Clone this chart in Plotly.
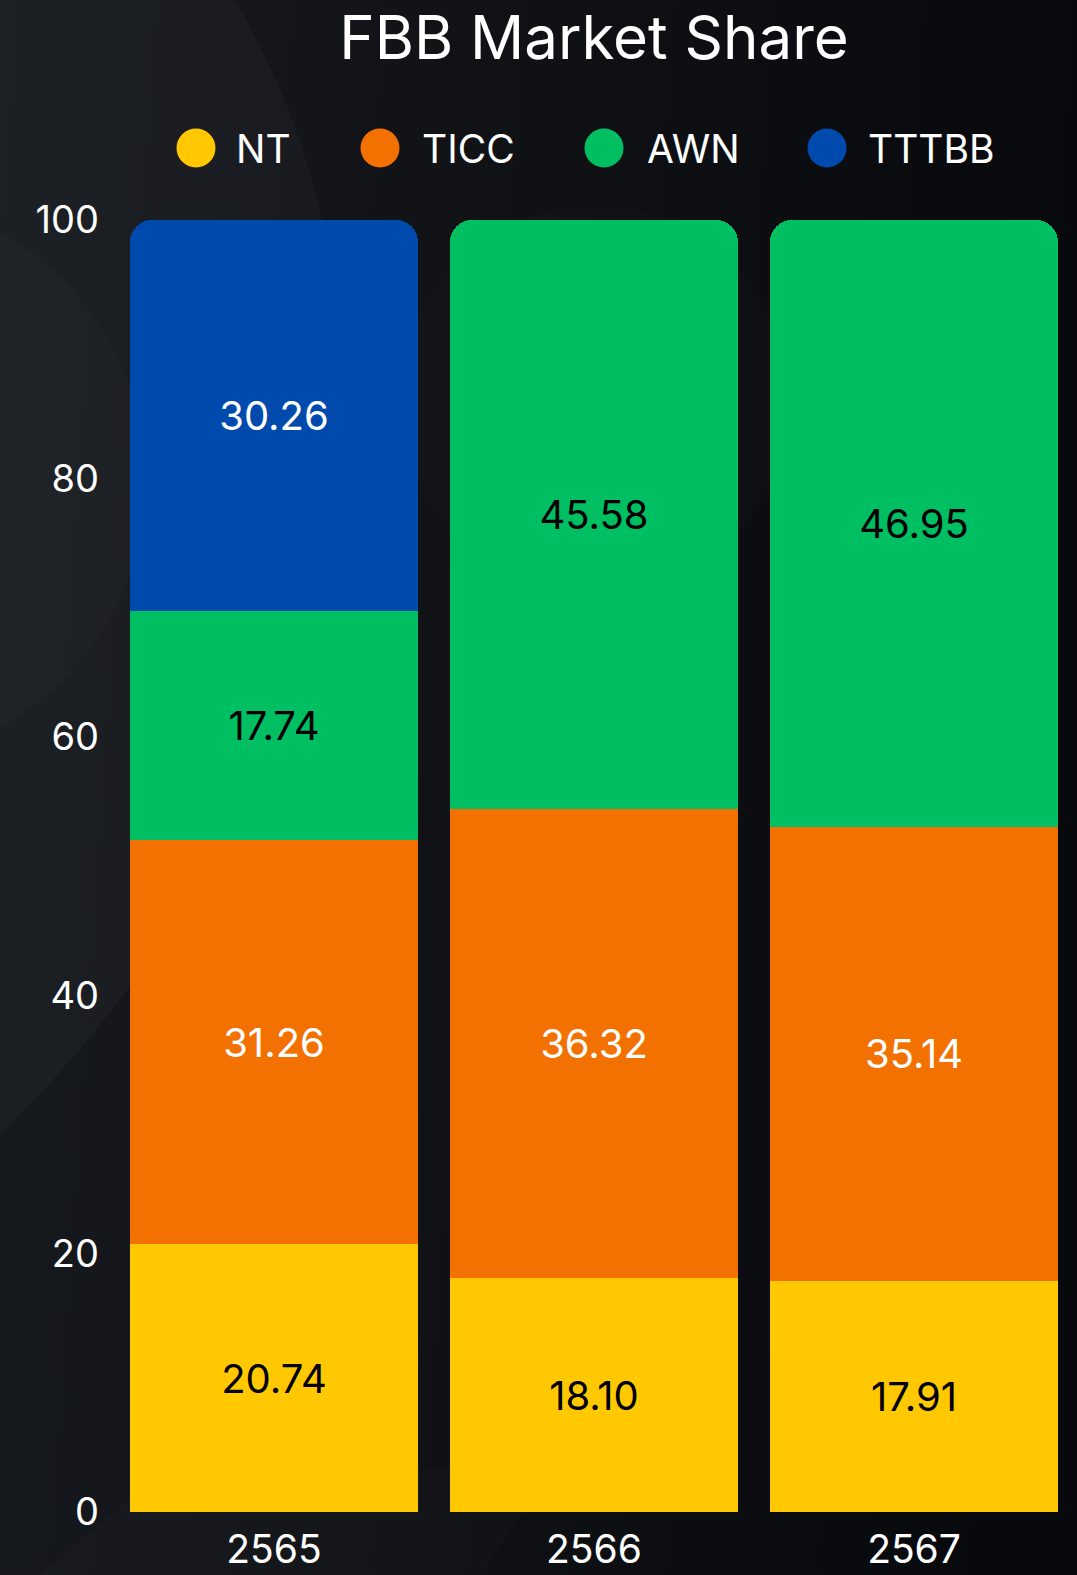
import base64
import plotly.graph_objects as go

# ---- data ----
years = ["2565", "2566", "2567"]
series_names = ["NT", "TICC", "AWN", "TTTBB"]
nt = [20.74, 18.10, 17.91]
ticc = [31.26, 36.32, 35.14]
awn = [17.74, 45.58, 46.95]
tttbb = [30.26, None, None]
y_ticks = [0, 20, 40, 60, 80, 100]

# ---- style ----
colors = ["#FFC800", "#F27100", "#00BF63", "#004AAD"]
text_colors = ["#000000", "#ffffff", "#000000", "#ffffff"]
FONT = "Inter"
W, H = 1077, 1575
PL, PR, PT, PB = 114, 1074, 220, 1512  # plot area in pixels

legend_marker_x = [196, 380, 604, 827]
legend_text_x = [234, 420, 645, 866]
legend_y = 148

svg = f"""<svg xmlns='http://www.w3.org/2000/svg' width='{W}' height='{H}' viewBox='0 0 {W} {H}'>
<defs><linearGradient id='g' x1='0' y1='0' x2='1' y2='0.1'>
<stop offset='0' stop-color='#171a1f'/><stop offset='0.45' stop-color='#101216'/><stop offset='1' stop-color='#07090c'/>
</linearGradient></defs>
<rect width='{W}' height='{H}' fill='url(#g)'/>
<path d='M0,0 L235,0 C430,330 360,780 0,1135 Z' fill='#ffffff' fill-opacity='0.028'/>
<circle cx='-140' cy='480' r='285' fill='#ffffff' fill-opacity='0.015'/>
<circle cx='595' cy='400' r='195' fill='#ffffff' fill-opacity='0.012'/>
<path d='M40,1575 L140,1490 L560,1460 L480,1575 Z' fill='#ffffff' fill-opacity='0.015'/>
</svg>"""
bg_src = "data:image/svg+xml;base64," + base64.b64encode(svg.encode()).decode()

fig = go.Figure()
values = [nt, ticc, awn, tttbb]
for name, vals, col, tcol in zip(series_names, values, colors, text_colors):
    fig.add_trace(go.Bar(
        x=years, y=vals, name=name, marker=dict(color=col, line=dict(width=0)),
        texttemplate="%{y:.2f}", textposition="inside", insidetextanchor="middle",
        textangle=0, textfont=dict(family=FONT, size=40, color=tcol),
        showlegend=False, hoverinfo="skip",
    ))

# custom legend with large circular markers
fig.add_trace(go.Scatter(
    x=legend_marker_x, y=[legend_y] * 4, mode="markers",
    marker=dict(size=39, color=colors, line=dict(width=0)),
    xaxis="x2", yaxis="y2", showlegend=False, hoverinfo="skip",
))
annotations = []
for name, tx in zip(series_names, legend_text_x):
    annotations.append(dict(
        x=tx, y=legend_y, xref="x2", yref="y2", text=name, showarrow=False,
        xanchor="left", yanchor="middle", font=dict(family=FONT, size=39, color="#ffffff"),
    ))

fig.update_layout(
    width=W, height=H,
    margin=dict(l=0, r=0, t=0, b=0, pad=0, autoexpand=False),
    paper_bgcolor="#0c0e12", plot_bgcolor="rgba(0,0,0,0)",
    barmode="stack", bargap=0.1, barcornerradius=22,
    font=dict(family=FONT, color="#ffffff"),
    title=dict(text="FBB Market Share", x=(PL + PR) / 2 / W, xanchor="center",
               y=1 - 38 / H, yanchor="middle", xref="paper", yref="paper",
               font=dict(family=FONT, size=60, color="#ffffff")),
    xaxis=dict(domain=[PL / W, PR / W], type="category", showgrid=False, zeroline=False,
               showline=False, ticks="", automargin=False,
               tickfont=dict(family=FONT, size=39, color="#ffffff"), ticklabelstandoff=11),
    yaxis=dict(domain=[(H - PB) / H, (H - PT) / H], range=[0, 100], tickvals=y_ticks,
               showgrid=False, zeroline=False, showline=False, ticks="", automargin=False,
               tickfont=dict(family=FONT, size=38, color="#ffffff"), ticklabelstandoff=14),
    xaxis2=dict(domain=[0, 1], range=[0, W], visible=False, anchor="y2", fixedrange=True,
                automargin=False),
    yaxis2=dict(domain=[0, 1], range=[H, 0], visible=False, anchor="x2", fixedrange=True,
                automargin=False),
    annotations=annotations,
    images=[dict(source=bg_src, xref="paper", yref="paper", x=0, y=1, sizex=1, sizey=1,
                 xanchor="left", yanchor="top", sizing="stretch", layer="below")],
)

fig.write_html(
    "out.html",
    config={"displayModeBar": False},
    post_script="document.body.style.margin='0';document.documentElement.style.overflow='hidden';document.body.style.overflow='hidden';",
)
